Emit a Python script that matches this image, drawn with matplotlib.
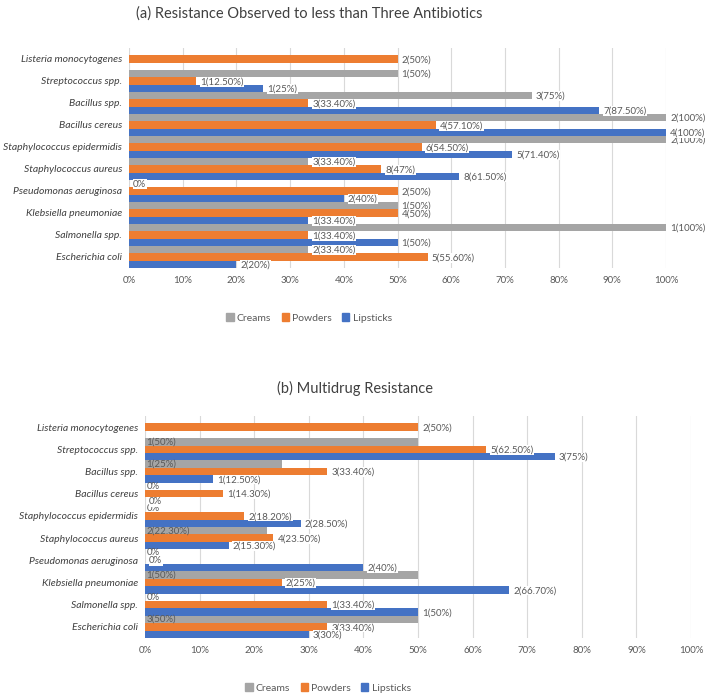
'''
Resistance of isolates from cosmetics: two horizontal grouped bar panels.
'''

import numpy as np
import matplotlib.pyplot as plt

plt.rcParams['font.family'] = ['Lato', 'DejaVu Sans']

# categories, listed top to bottom as they appear
organisms = ['Listeria monocytogenes', 'Streptococcus spp.', 'Bacillus spp.',
             'Bacillus cereus', 'Staphylococcus epidermidis',
             'Staphylococcus aureus', 'Pseudomonas aeruginosa',
             'Klebsiella pneumoniae', 'Salmonella spp.', 'Escherichia coli']

series = ['Creams', 'Powders', 'Lipsticks']
colors = ['#A5A5A5', '#ED7D31', '#4472C4']

# (a) resistance observed to less than three antibiotics: counts and percent
a_creams_n = [None, 1, 3, 2, 2, 3, 0, 1, 1, 2]
a_creams_pct = [None, 50, 75, 100, 100, 33.4, 0, 50, 100, 33.4]
a_powders_n = [2, 1, 3, 4, 6, 8, 2, 4, 1, 5]
a_powders_pct = [50, 12.5, 33.4, 57.1, 54.5, 47, 50, 50, 33.4, 55.6]
a_lipsticks_n = [None, 1, 7, 4, 5, 8, 2, 1, 1, 2]
a_lipsticks_pct = [None, 25, 87.5, 100, 71.4, 61.5, 40, 33.4, 50, 20]

# (b) multidrug resistance
b_creams_n = [None, 1, 1, 0, 0, 2, 0, 1, 0, 3]
b_creams_pct = [None, 50, 25, 0, 0, 22.3, 0, 50, 0, 50]
b_powders_n = [2, 5, 3, 1, 2, 4, 0, 2, 1, 3]
b_powders_pct = [50, 62.5, 33.4, 14.3, 18.2, 23.5, 0, 25, 33.4, 33.4]
b_lipsticks_n = [None, 3, 1, 0, 2, 2, 2, 2, 1, 3]
b_lipsticks_pct = [None, 75, 12.5, 0, 28.5, 15.3, 40, 66.7, 50, 30]

xticks = np.arange(0, 101, 10)

W, H = 708, 695
text_col = '#595959'


def fmt_label(n, pct):
    if n == 0:
        return '0%'
    p = f'{pct:g}' if float(pct).is_integer() else f'{pct:.2f}'
    return f'{n}({p}%)'


def draw_panel(ax, counts, pcts, title_pos, title, legend_pos, gray_inside=False):
    ypos = np.arange(len(organisms))[::-1]
    h = 1 / 3
    offsets = [h, 0, -h]
    for k in range(3):
        for y, n, p in zip(ypos, counts[k], pcts[k]):
            if n is None:
                continue
            ax.barh(y + offsets[k], p, height=h, color=colors[k], zorder=2)
            lab = fmt_label(n, p)
            if k == 0 and gray_inside:
                ax.annotate(lab, (0, y + offsets[k]), xytext=(1, 0),
                            textcoords='offset points', ha='left', va='center',
                            fontsize=7, color=text_col, zorder=4,
                            annotation_clip=False)
            else:
                ax.annotate(lab, (p, y + offsets[k]), xytext=(3, -0.5),
                            textcoords='offset points', ha='left', va='center',
                            fontsize=7, color=text_col, zorder=4,
                            annotation_clip=False,
                            bbox=dict(facecolor='white', edgecolor='none', pad=0.3))
    ax.set_xlim(0, 100)
    ax.set_ylim(-0.5, len(organisms) - 0.5)
    ax.set_xticks(xticks)
    ax.set_xticklabels([f'{t}%' for t in xticks])
    ax.set_yticks(ypos)
    ax.set_yticklabels(organisms, style='italic')
    ax.tick_params(length=0, labelsize=7, labelcolor=text_col, pad=6)
    ax.tick_params(axis='y', labelsize=7.5, labelcolor='#404040', pad=5)
    ax.grid(axis='x', color='#D9D9D9', linewidth=0.8, zorder=0)
    ax.set_axisbelow(True)
    for s in ax.spines.values():
        s.set_visible(False)

    fig.text(title_pos[0] / W, 1 - title_pos[1] / H, title, ha='center',
             va='center', fontsize=10.5, color='#404040')
    handles = [plt.Rectangle((0, 0), 1, 1, color=c) for c in colors]
    fig.legend(handles, series, loc='center',
               bbox_to_anchor=(legend_pos[0] / W, 1 - legend_pos[1] / H),
               ncol=3, frameon=False, fontsize=7.5, labelcolor=text_col,
               handlelength=0.7, handleheight=0.7, handletextpad=0.3,
               columnspacing=1.0)


fig = plt.figure(figsize=(W / 100, H / 100), dpi=100)
ax1 = fig.add_axes([129 / W, 1 - 268 / H, (666 - 129) / W, 220 / H])
ax2 = fig.add_axes([145 / W, 1 - 638 / H, (691 - 145) / W, 222 / H])

draw_panel(ax1, [a_creams_n, a_powders_n, a_lipsticks_n],
           [a_creams_pct, a_powders_pct, a_lipsticks_pct],
           (309, 14), '(a) Resistance Observed to less than Three Antibiotics',
           (309, 318))
draw_panel(ax2, [b_creams_n, b_powders_n, b_lipsticks_n],
           [b_creams_pct, b_powders_pct, b_lipsticks_pct],
           (355, 388), '(b) Multidrug Resistance', (328, 688),
           gray_inside=True)

fig.savefig('out.png', dpi=100)
